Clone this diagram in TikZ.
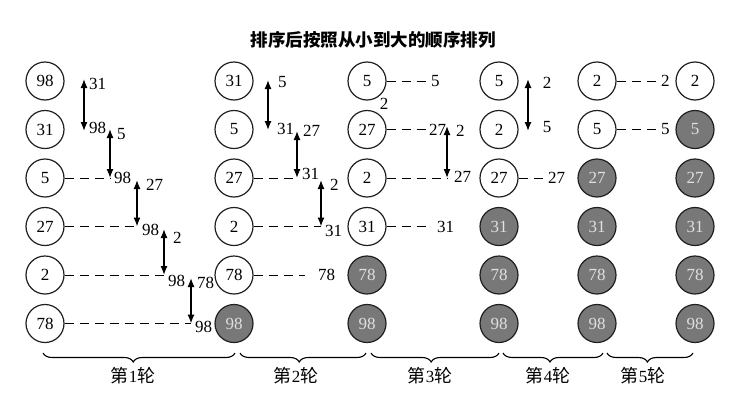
\documentclass[tikz,border=0pt]{standalone}
\usepackage{fontspec}
\setmainfont{Liberation Serif}
\newfontfamily\cjk{Noto Sans CJK SC}
\usetikzlibrary{arrows.meta,decorations.pathreplacing}
\newcommand\numsize{\fontsize{17}{19}\selectfont}
\newcommand\roundsize{\fontsize{17}{19}\selectfont}
\newcommand\titlesize{\fontsize{17.5}{20}\selectfont}
\begin{document}
\begin{tikzpicture}[x=1pt,y=-1pt,
  ball/.style={circle, draw=black!88, line width=1.2pt, minimum size=38pt, inner sep=0pt, font=\numsize},
  doneball/.style={ball, fill=black!53, text=black!12},
  dline/.style={line width=1pt, dash pattern=on 9pt off 6pt},
  xarrow/.style={{Latex[length=9pt,width=7pt]}-{Latex[length=9pt,width=7pt]}, line width=1.3pt},
  lab/.style={inner sep=0pt, font=\numsize},
  rbrace/.style={decorate, decoration={brace, mirror, amplitude=9pt, aspect=0.47}, line width=1.1pt},
  roundlab/.style={inner sep=0pt, font=\roundsize},
]
\useasboundingbox (0,0) rectangle (751,410);

% title
\node[inner sep=0pt, font=\titlesize] (title) at (373,40) {\cjk\bfseries 排序后按照从小到大的顺序排列};

% column 0
\node[ball] (c00) at (45,81) {98};
\node[ball] (c01) at (45,129.5) {31};
\node[ball] (c02) at (45,178) {5};
\node[ball] (c03) at (45,226.5) {27};
\node[ball] (c04) at (45,275) {2};
\node[ball] (c05) at (45,323.5) {78};
% column 1
\node[ball] (c10) at (234,81) {31};
\node[ball] (c11) at (234,129.5) {5};
\node[ball] (c12) at (234,178) {27};
\node[ball] (c13) at (234,226.5) {2};
\node[ball] (c14) at (234,275) {78};
\node[doneball] (c15) at (234,323.5) {98};
% column 2
\node[ball] (c20) at (367,81) {5};
\node[ball] (c21) at (367,129.5) {27};
\node[ball] (c22) at (367,178) {2};
\node[ball] (c23) at (367,226.5) {31};
\node[doneball] (c24) at (367,275) {78};
\node[doneball] (c25) at (367,323.5) {98};
% column 3
\node[ball] (c30) at (499,81) {5};
\node[ball] (c31) at (499,129.5) {2};
\node[ball] (c32) at (499,178) {27};
\node[doneball] (c33) at (499,226.5) {31};
\node[doneball] (c34) at (499,275) {78};
\node[doneball] (c35) at (499,323.5) {98};
% column 4
\node[ball] (c40) at (597,81) {2};
\node[ball] (c41) at (597,129.5) {5};
\node[doneball] (c42) at (597,178) {27};
\node[doneball] (c43) at (597,226.5) {31};
\node[doneball] (c44) at (597,275) {78};
\node[doneball] (c45) at (597,323.5) {98};
% column 5
\node[ball] (c50) at (695,81) {2};
\node[doneball] (c51) at (695,129.5) {5};
\node[doneball] (c52) at (695,178) {27};
\node[doneball] (c53) at (695,226.5) {31};
\node[doneball] (c54) at (695,275) {78};
\node[doneball] (c55) at (695,323.5) {98};

% ---------- round 1 ----------
\coordinate (a1t) at (84,79);   \coordinate (a1b) at (84,131);
\coordinate (a2t) at (110,129); \coordinate (a2b) at (110,178);
\coordinate (a3t) at (137,180); \coordinate (a3b) at (137,226.5);
\coordinate (a4t) at (164,229); \coordinate (a4b) at (164,275);
\coordinate (a5t) at (191,278); \coordinate (a5b) at (191,323.5);
\draw[xarrow] (a1t) -- (a1b);
\draw[xarrow] (a2t) -- (a2b);
\draw[xarrow] (a3t) -- (a3b);
\draw[xarrow] (a4t) -- (a4b);
\draw[xarrow] (a5t) -- (a5b);
\draw[dline] (c02.east) -- (a2b);
\draw[dline] (c03.east) -- (a3b);
\draw[dline] (c04.east) -- (a4b);
\draw[dline] (c05.east) -- (a5b);
\node[lab,anchor=west] (a1tl) at (89,84) {31};
\node[lab,anchor=west] (a1bl) at (89,128) {98};
\node[lab,anchor=west] (a2tl) at (117,134) {5};
\node[lab,anchor=west] (a2bl) at (114,178) {98};
\node[lab,anchor=west] (a3tl) at (146,185) {27};
\node[lab,anchor=west] (a3bl) at (142,230) {98};
\node[lab,anchor=west] (a4tl) at (173,238) {2};
\node[lab,anchor=west] (a4bl) at (168,281) {98};
\node[lab,anchor=west] (a5tl) at (197,283) {78};
\node[lab,anchor=west] (a5bl) at (195,327) {98};

% ---------- round 2 ----------
\coordinate (b1t) at (268,80);  \coordinate (b1b) at (268,130);
\coordinate (b2t) at (297,131); \coordinate (b2b) at (297,178);
\coordinate (b3t) at (321,180); \coordinate (b3b) at (321,226.5);
\coordinate (d14) at (305,275);
\draw[xarrow] (b1t) -- (b1b);
\draw[xarrow] (b2t) -- (b2b);
\draw[xarrow] (b3t) -- (b3b);
\draw[dline] (c12.east) -- (b2b);
\draw[dline] (c13.east) -- (b3b);
\draw[dline] (c14.east) -- (d14);
\node[lab,anchor=west] (b1tl) at (278,82) {5};
\node[lab,anchor=west] (b1bl) at (277,129) {31};
\node[lab,anchor=west] (b2tl) at (303,131) {27};
\node[lab,anchor=west] (b2bl) at (302,174) {31};
\node[lab,anchor=west] (b3tl) at (330,185) {2};
\node[lab,anchor=west] (b3bl) at (325,231) {31};
\node[lab,anchor=west] (d14l) at (318,275) {78};

% ---------- round 3 ----------
\coordinate (d20) at (427,81);
\coordinate (d21) at (427,129.5);
\coordinate (e1t) at (447,126); \coordinate (e1b) at (447,178);
\coordinate (d23) at (431,226.5);
\draw[xarrow] (e1t) -- (e1b);
\draw[dline] (c20.east) -- (d20);
\draw[dline] (c21.east) -- (d21);
\draw[dline] (c22.east) -- (e1b);
\draw[dline] (c23.east) -- (d23);
\node[lab,anchor=west] (d20l) at (431,81) {5};
\node[lab] (stray2) at (384,104) {2};
\node[lab,anchor=west] (d21l) at (429,129.5) {27};
\node[lab,anchor=west] (e1tl) at (456,131) {2};
\node[lab,anchor=west] (e1bl) at (454,177) {27};
\node[lab,anchor=west] (d23l) at (437,226.5) {31};

% ---------- round 4 ----------
\coordinate (f1t) at (528,79); \coordinate (f1b) at (528,131);
\coordinate (d32) at (547,178);
\draw[xarrow] (f1t) -- (f1b);
\draw[dline] (c32.east) -- (d32);
\node[lab] (f1tl) at (547,83) {2};
\node[lab] (f1bl) at (547,127) {5};
\node[lab,anchor=west] (d32l) at (548,178) {27};

% ---------- round 5 ----------
\coordinate (d40) at (658,81);
\coordinate (d41) at (658,129.5);
\draw[dline] (c40.east) -- (d40);
\draw[dline] (c41.east) -- (d41);
\node[lab,anchor=west] (d40l) at (661,81) {2};
\node[lab,anchor=west] (d41l) at (661,129.5) {5};

% ---------- braces ----------
\coordinate (r1a) at (43,353);  \coordinate (r1b) at (235,353);
\coordinate (r2a) at (240,353); \coordinate (r2b) at (366,353);
\coordinate (r3a) at (371,353); \coordinate (r3b) at (499,353);
\coordinate (r4a) at (503,353); \coordinate (r4b) at (603,353);
\coordinate (r5a) at (607,353); \coordinate (r5b) at (693,353);
\draw[rbrace] (r1a) -- (r1b);
\draw[rbrace] (r2a) -- (r2b);
\draw[rbrace] (r3a) -- (r3b);
\draw[rbrace] (r4a) -- (r4b);
\draw[rbrace] (r5a) -- (r5b);
\node[roundlab] (round1) at (133,376) {{\cjk\fontsize{18}{20}\selectfont 第}1{\cjk\fontsize{18}{20}\selectfont 轮}};
\node[roundlab] (round2) at (296,376) {{\cjk\fontsize{18}{20}\selectfont 第}2{\cjk\fontsize{18}{20}\selectfont 轮}};
\node[roundlab] (round3) at (430,376) {{\cjk\fontsize{18}{20}\selectfont 第}3{\cjk\fontsize{18}{20}\selectfont 轮}};
\node[roundlab] (round4) at (548,376) {{\cjk\fontsize{18}{20}\selectfont 第}4{\cjk\fontsize{18}{20}\selectfont 轮}};
\node[roundlab] (round5) at (643,376) {{\cjk\fontsize{18}{20}\selectfont 第}5{\cjk\fontsize{18}{20}\selectfont 轮}};
\end{tikzpicture}
\end{document}
